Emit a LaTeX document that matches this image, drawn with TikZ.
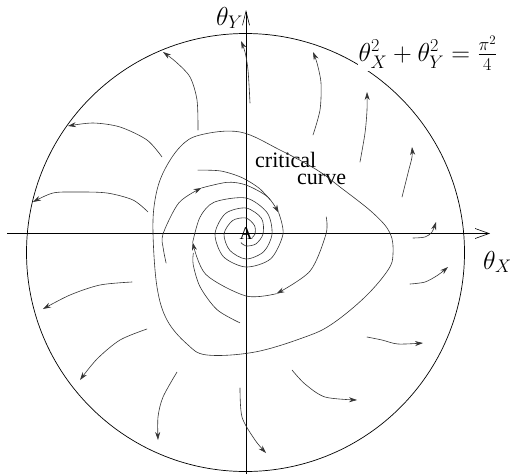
\documentclass[tikz,border=0pt]{standalone}
\usepackage{fix-cm}
\usepackage{amsmath}
\usepackage{fontspec}
\newfontfamily\timesfont{Liberation Serif}
\usetikzlibrary{arrows.meta}
\begin{document}
\begin{tikzpicture}[x=1pt,y=-1pt,
  flow/.style={line width=0.6pt, draw=black!80, line cap=round},
  tipflow/.style={flow, -{Stealth[length=8pt,width=5pt]}},
  axis/.style={line width=0.8pt, draw=black},
  crit/.style={line width=0.6pt, draw=black!80},
  mathlbl/.style={inner sep=0pt, font=\fontsize{26}{30}\selectfont},
  eqlbl/.style={inner sep=1pt, fill=white, font=\fontsize{26}{30}\selectfont},
  txtlbl/.style={inner sep=0pt, font=\fontsize{22}{24}\selectfont\timesfont}]
\useasboundingbox (0,0) rectangle (510,474);
% circle
\coordinate (C) at (245.5,252.5);
\draw[line width=0.7pt] (C) circle[radius=219];
% axes
\coordinate (xl) at (7,233.5);
\coordinate (xr) at (490,233.5);
\coordinate (yb) at (246,474);
\coordinate (yt) at (246,10);
\draw[axis, -{Straight Barb[length=14pt,width=10pt,line width=0.6pt]}] (xl) -- (xr);
\draw[axis, -{Straight Barb[length=14pt,width=7pt,line width=0.6pt]}] (yb) -- (yt);
\coordinate (O) at (246,234);
\node[inner sep=0pt, font=\fontsize{18}{20}\selectfont\timesfont] (A) at (O) {A};
% labels
\node[mathlbl, anchor=east] (ty) at (243,18) {$\theta_Y$};
\node[mathlbl, anchor=west] (tx) at (483,262) {$\theta_X$};
\node[eqlbl] (eq) at (428,53) {$\theta_X^2+\theta_Y^2=\tfrac{\pi^2}{4}$};
\node[txtlbl, anchor=west] (crt) at (255,160) {critical};
\node[txtlbl, anchor=west] (crv) at (297,179) {curve};
% critical curve
\draw[crit] plot[smooth cycle, tension=0.6] coordinates {
 (153,233) (155,200) (163,173) (180,147) (200,135) (240,132) (280,150)
 (317,170) (340,187) (373,213) (390,233) (393,254) (388,270) (365,297)
 (332,324) (305,337) (255,352) (207,355) (187,344) (167,320) (157,287)};
% outer flow lines
\draw[tipflow] plot[smooth] coordinates {(198,130) (197,100) (190,77) (176,62) (163,52)};
\draw[tipflow] plot[smooth] coordinates {(162,157) (147,140) (120,127) (93,123) (68,126)};
\draw[tipflow] plot[smooth] coordinates {(148,212) (133,200) (107,193) (77,192) (53,193) (33,202)};
\draw[tipflow] plot[smooth] coordinates {(250,103) (248,70) (245,52) (241,41)};
\draw[tipflow] plot[smooth] coordinates {(313,135) (320,110) (321,83) (317,63) (313,52)};
\draw[tipflow] plot[smooth] coordinates {(360,162) (365,133) (367,110) (367,92)};
\draw[tipflow] plot[smooth] coordinates {(402,197) (408,173) (412,157) (412,147)};
\draw[tipflow] plot[smooth] coordinates {(413,238) (425,237) (432,232) (436,222)};
\draw[tipflow] plot[smooth] coordinates {(410,284) (425,282) (438,275) (448,267)};
\draw[tipflow] plot[smooth] coordinates {(367,337) (382,340) (398,344) (423,343)};
\draw[tipflow] plot[smooth] coordinates {(292,370) (305,384) (325,397) (357,400)};
\draw[tipflow] plot[smooth] coordinates {(240,388) (242,417) (255,440) (266,453)};
\draw[tipflow] plot[smooth] coordinates {(132,282) (100,285) (70,295) (43,309)};
\draw[tipflow] plot[smooth] coordinates {(147,329) (120,340) (97,359) (80,380)};
\draw[tipflow] plot[smooth] coordinates {(177,372) (163,397) (158,417) (158,440)};
% spiral around A
\begin{scope}[shift={(O)}]
 % arm starting on the left
 \draw[tipflow] plot[smooth] coordinates {(160:85) (170:84) (180:83) (205:74) (226:64)};
 \draw[tipflow] plot[smooth] coordinates {(226:64) (250:55) (270:49) (300:43) (327:39)};
 \draw[flow] plot[smooth] coordinates {(327:39) (360:37) (405:35) (450:33) (495:32)
   (540:31) (585:29) (630:26) (675:22) (720:17) (765:14) (810:12) (840:10)};
 % arm starting on the right
 \draw[tipflow] plot[smooth] coordinates {(348:82) (360:80) (390:74) (423:67)};
 \draw[tipflow] plot[smooth] coordinates {(423:67) (450:62) (495:57) (531:54)};
 \draw[flow] plot[smooth] coordinates {(531:54) (560:49) (585:45) (630:36) (675:30)
   (720:26) (765:25) (810:25) (855:23) (900:22) (945:19) (990:16) (1035:12) (1080:9) (1110:7)};
 % joining arcs
 \draw[flow] plot[smooth] coordinates {(233:80) (248:68) (265:57) (285:48) (305:42)};
 \draw[flow] plot[smooth] coordinates {(94:89) (111:81) (131:70) (150:61) (160:56)};
\end{scope}
\end{tikzpicture}
\end{document}
